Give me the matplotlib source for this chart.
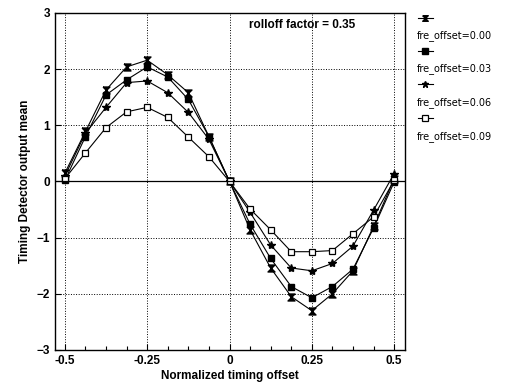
import numpy as np
import matplotlib
matplotlib.use("Agg")
import matplotlib.pyplot as plt
from matplotlib.lines import Line2D

plt.rcParams['font.family'] = ['Liberation Sans', 'DejaVu Sans']

# ----- data -----
offsets = np.arange(-0.5, 0.5001, 0.0625)
fre_000 = [0.15, 0.89, 1.63, 2.04, 2.16, 1.90, 1.58, 0.80, 0.0,
           -0.86, -1.54, -2.05, -2.30, -2.00, -1.59, -0.80, 0.05]
fre_003 = [0.02, 0.80, 1.54, 1.81, 2.04, 1.86, 1.46, 0.80, 0.0,
           -0.76, -1.37, -1.87, -2.07, -1.87, -1.56, -0.83, -0.01]
fre_006 = [0.10, 0.86, 1.32, 1.76, 1.79, 1.58, 1.23, 0.75, 0.0,
           -0.55, -1.13, -1.54, -1.59, -1.46, -1.15, -0.51, 0.14]
fre_009 = [0.05, 0.51, 0.96, 1.24, 1.32, 1.14, 0.79, 0.44, 0.0,
           -0.49, -0.86, -1.25, -1.25, -1.23, -0.93, -0.63, 0.02]
labels = ["fre_offset=0.00", "fre_offset=0.03", "fre_offset=0.06", "fre_offset=0.09"]

bowtie = [(-1, 1), (1, 1), (-1, -1), (1, -1), (-1, 1)]
styles = [
    dict(marker=bowtie, ms=5, mfc='black', mec='black'),
    dict(marker='s', ms=5, mfc='black', mec='black'),
    dict(marker='*', ms=6, mfc='black', mec='black'),
    dict(marker='s', ms=5, mfc='white', mec='black', mew=0.9),
]
series = [fre_000, fre_003, fre_006, fre_009]

fig = plt.figure(figsize=(5.07, 3.9), dpi=100)
ax = fig.add_axes([0.1085, 0.1026, 0.6903, 0.8641])

for y, st in zip(series, styles):
    ax.plot(offsets, y, color='black', lw=0.8, **st)

ax.set_xlim(-0.53, 0.533)
ax.set_ylim(-3, 3)
ax.set_xticks([-0.5, -0.25, 0, 0.25, 0.5])
ax.set_xticklabels(["-0.5", "-0.25", "0", "0.25", "0.5"])
ax.set_xticks(offsets, minor=True)
ax.set_yticks([-3, -2, -1, 0, 1, 2, 3])
ax.tick_params(direction='in', length=4, width=0.8, labelsize=8.5)
ax.tick_params(which='minor', direction='in', length=3, width=0.8)
for lab in ax.get_xticklabels() + ax.get_yticklabels():
    lab.set_fontweight('bold')
ax.grid(True, which='major', linestyle=':', color='black', lw=0.7)
ax.axhline(0, color='black', lw=0.9)
for sp in ax.spines.values():
    sp.set_linewidth(1.0)

ax.set_xlabel("Normalized timing offset", fontsize=8.5, fontweight='bold', labelpad=2)
ax.set_ylabel("Timing Detector output mean", fontsize=8.5, fontweight='bold', labelpad=4)
ax.text(0.06, 2.73, "rolloff factor = 0.35", fontsize=8.5, fontweight='bold')

# legend: short key line with one marker above each label, outside right
key_y = [0.955, 0.870, 0.785, 0.697]
for ky, lab, st in zip(key_y, labels, styles):
    kst = dict(st)
    kst['ms'] = st['ms'] - 1
    fig.add_artist(Line2D([0.824, 0.839, 0.854], [ky, ky, ky], transform=fig.transFigure,
                          color='black', lw=0.8, markevery=[1], **kst))
    fig.text(0.822, ky - 0.047, lab, fontsize=7, family=['Liberation Sans Narrow', 'DejaVu Sans'],
             va='center', ha='left')

fig.savefig("out.png", dpi=100)
